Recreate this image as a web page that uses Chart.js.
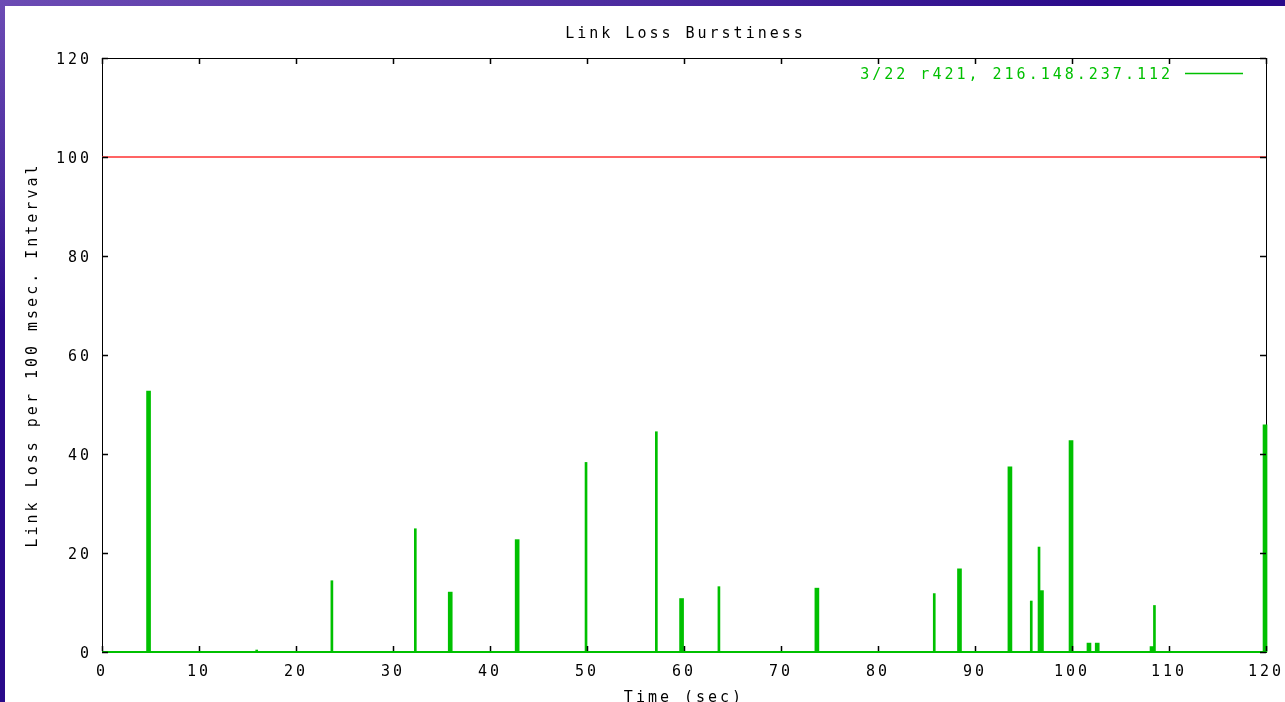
<!DOCTYPE html>
<html>
<head>
<meta charset="utf-8">
<title>Link Loss Burstiness</title>
<script src="https://cdn.jsdelivr.net/npm/chart.js@4.4.1/dist/chart.umd.min.js"></script>
<style>
  html, body { margin: 0; padding: 0; width: 1285px; height: 702px; overflow: hidden; }
  body { background: radial-gradient(ellipse 1100px 320px at 0 0, #6c4cb4 0%, #4a2a9e 60%, #2a0a8a 100%); }
  #wrap { position: absolute; left: 5px; top: 6px; width: 1280px; height: 696px; background: #fff; }
</style>
</head>
<body>
<div id="wrap"><canvas id="burstChart" width="1280" height="696"></canvas></div>
<script>
// thin impulses (single 100 msec interval)
const thinTimes  = [15.95, 23.7, 32.3, 49.9, 57.15, 63.6, 85.8, 95.8, 96.6, 108.5];
const thinValues = [0.4,   14.4, 24.9, 38.3, 44.5,  13.2, 11.8, 10.3, 21.2, 9.4];

// wider impulses (a few consecutive intervals)
const thickTimes  = [4.8,  35.9, 42.8, 59.75, 73.7, 88.4, 93.6, 96.85, 99.9, 101.75, 102.6, 108.25, 119.9];
const thickValues = [52.7, 12.1, 22.7, 10.8,  12.9, 16.8, 37.4, 12.4,  42.7, 1.8,    1.8,   1.1,    45.9];

const chartTitle = 'Link Loss Burstiness';
const seriesLabel = '3/22 r421, 216.148.237.112';
const xTicks = [0, 10, 20, 30, 40, 50, 60, 70, 80, 90, 100, 110, 120];
const yTicks = [0, 20, 40, 60, 80, 100, 120];
const limitLine = 100;

const FONT = { family: '"DejaVu Sans Mono", "Liberation Mono", monospace', size: 15, weight: 'normal' };
const GREEN = '#00c000';

// gnuplot look: wide mono text, black frame, inward mirrored ticks, legend inside
const gnuplotFrame = {
    id: 'gnuplotFrame',
    beforeUpdate(chart) { chart.ctx.letterSpacing = '3px'; },
    beforeDraw(chart) {
        const { ctx, chartArea: a } = chart;
        ctx.letterSpacing = '3px';
        ctx.save();
        ctx.font = `${FONT.size}px ${FONT.family}`;
        ctx.fillStyle = '#000';
        ctx.textAlign = 'center';
        ctx.textBaseline = 'middle';
        ctx.fillText(chartTitle, (a.left + a.right) / 2 + 1.5, 28);
        ctx.restore();
    },
    beforeDatasetsDraw(chart) {
        const { ctx, chartArea: a } = chart;
        ctx.save();
        ctx.strokeStyle = '#000';
        ctx.lineWidth = 1;
        ctx.strokeRect(Math.round(a.left) + 0.5, Math.round(a.top) + 0.5,
                       Math.round(a.right - a.left), Math.round(a.bottom - a.top));
        ctx.restore();
    },
    afterDatasetsDraw(chart) {
        const { ctx, chartArea: a, scales } = chart;
        const len = 6;
        ctx.save();
        ctx.strokeStyle = '#000';
        ctx.lineWidth = 1.5;
        ctx.beginPath();
        xTicks.forEach(v => {
            const px = Math.round(scales.x.getPixelForValue(v)) + 0.5;
            ctx.moveTo(px, a.bottom - 1); ctx.lineTo(px, a.bottom - len);
            ctx.moveTo(px, a.top); ctx.lineTo(px, a.top + len);
        });
        yTicks.forEach(v => {
            const py = Math.round(scales.y.getPixelForValue(v)) + 0.5;
            ctx.moveTo(a.left, py); ctx.lineTo(a.left + len, py);
            ctx.moveTo(a.right, py); ctx.lineTo(a.right - len, py);
        });
        ctx.stroke();

        // legend entry
        const ds = chart.data.datasets[0];
        ctx.font = `${FONT.size}px ${FONT.family}`;
        ctx.fillStyle = GREEN;
        ctx.textAlign = 'right';
        ctx.textBaseline = 'middle';
        ctx.fillText(ds.label, a.right - 93, a.top + 17);
        ctx.strokeStyle = GREEN;
        ctx.lineWidth = 1.5;
        ctx.beginPath();
        ctx.moveTo(a.right - 81, a.top + 15.5);
        ctx.lineTo(a.right - 23, a.top + 15.5);
        ctx.stroke();
        ctx.restore();
    }
};

const ctx = document.getElementById('burstChart');

new Chart(ctx, {
    type: 'bar',
    data: {
        datasets: [
            {
                label: seriesLabel,
                data: thinTimes.map((t, i) => ({ x: t, y: thinValues[i] })),
                backgroundColor: GREEN,
                borderWidth: 0,
                barThickness: 2,
                grouped: false
            },
            {
                label: seriesLabel,
                data: thickTimes.map((t, i) => ({ x: t, y: thickValues[i] })),
                backgroundColor: GREEN,
                borderWidth: 0,
                barThickness: 4,
                grouped: false,
                clip: false
            },
            {
                type: 'line',
                label: 'baseline',
                data: [{ x: 0, y: 0 }, { x: 120, y: 0 }],
                borderColor: GREEN,
                borderWidth: 2,
                pointRadius: 0,
                clip: false
            },
            {
                type: 'line',
                label: 'limit',
                data: [{ x: 0, y: limitLine }, { x: 120, y: limitLine }],
                borderColor: '#ff3030',
                borderWidth: 1.5,
                pointRadius: 0
            }
        ]
    },
    options: {
        responsive: false,
        animation: false,
        layout: { padding: { top: 52, right: 19, bottom: 0, left: 0 } },
        plugins: {
            legend: { display: false },
            tooltip: { enabled: false },
            title: { display: false }
        },
        scales: {
            x: {
                type: 'linear',
                min: 0,
                max: 120,
                offset: false,
                grid: { display: false, drawTicks: false },
                border: { display: false },
                ticks: { stepSize: 10, color: '#000', font: FONT, padding: 11, maxRotation: 0, autoSkip: false },
                title: { display: true, text: 'Time (sec)', color: '#000', font: FONT, padding: { top: 0, bottom: -5 } },
                afterFit: s => { s.height = 50; s.paddingLeft = 0; s.paddingRight = 0; }
            },
            y: {
                min: 0,
                max: 120,
                grid: { display: false, drawTicks: false },
                border: { display: false },
                ticks: { stepSize: 20, color: '#000', font: FONT, padding: 10, labelOffset: 2 },
                title: { display: true, text: 'Link Loss per 100 msec. Interval', color: '#000', font: FONT, padding: { top: 19, bottom: 0 } },
                afterFit: s => { s.width = 97; s.paddingTop = 0; s.paddingBottom = 0; }
            }
        }
    },
    plugins: [gnuplotFrame]
});
</script>
</body>
</html>
